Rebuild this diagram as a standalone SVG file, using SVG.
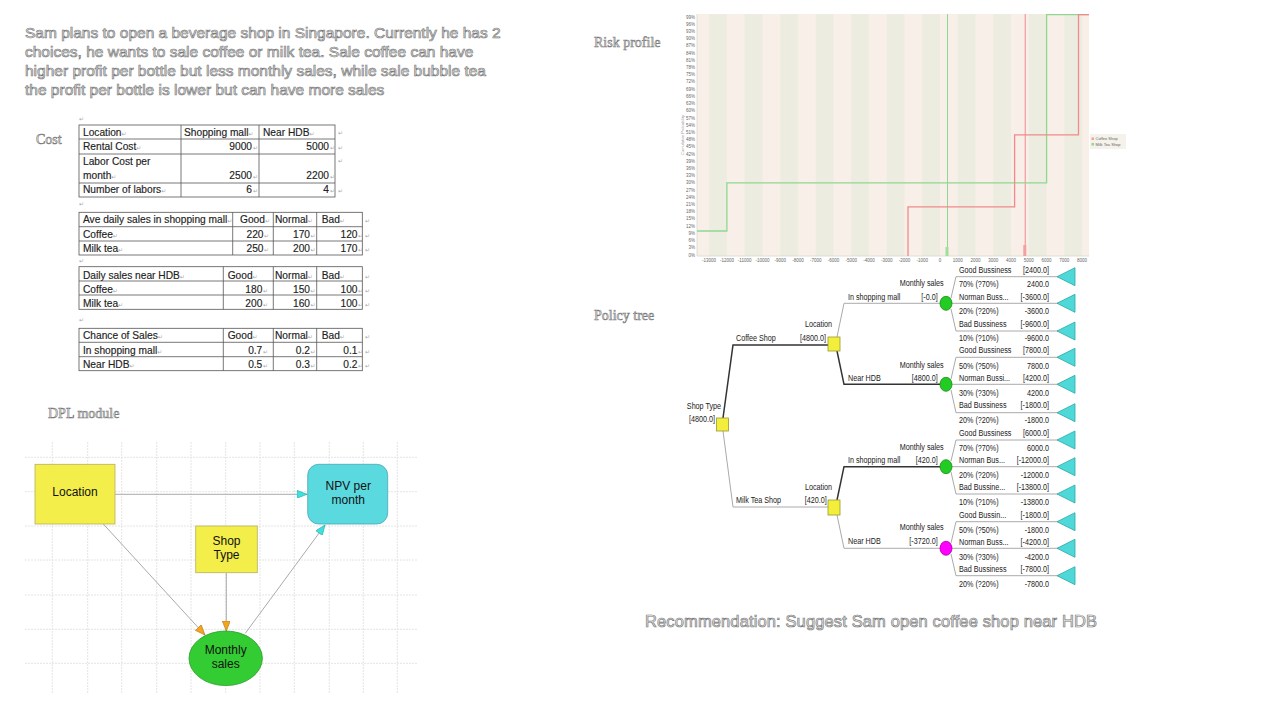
<svg xmlns="http://www.w3.org/2000/svg" width="1280" height="720" viewBox="0 0 1280 720">
<style>
.ghost{font-family:"Liberation Sans",Arial,sans-serif;font-size:15.5px;fill:#f2f2f2;stroke:#7a7a7a;stroke-width:0.7}
.ghs{font-family:"Liberation Serif","Times New Roman",serif;font-size:14px;fill:#f2f2f2;stroke:#7a7a7a;stroke-width:0.6}
.tb{fill:none;stroke:#555;stroke-width:0.8}
.tt{font-family:"Liberation Sans",Arial,sans-serif;font-size:10.2px;fill:#222;stroke:#222;stroke-width:0.15}
.tr{font-family:"Liberation Sans",Arial,sans-serif;font-size:10.2px;fill:#222;stroke:#222;stroke-width:0.15;text-anchor:end}
.rm{font-family:"DejaVu Sans",sans-serif;font-size:6px;fill:#aaa;stroke:none}
.grid{stroke:#e4e4e4;stroke-width:1;stroke-dasharray:2 1}
.dlink{stroke:#aaa;stroke-width:1;fill:none}
.nt{font-family:"Liberation Sans",Arial,sans-serif;font-size:12px;fill:#111;text-anchor:middle}
.tk{font-family:"Liberation Sans",Arial,sans-serif;font-size:4.5px;fill:#666}
.tn{font-family:"Liberation Sans",Arial,sans-serif;font-size:9.6px;fill:#222;transform-box:fill-box;transform-origin:0% 50%;transform:scaleX(0.75)}
.te{font-family:"Liberation Sans",Arial,sans-serif;font-size:9.6px;fill:#222;text-anchor:end;transform-box:fill-box;transform-origin:100% 50%;transform:scaleX(0.75)}
.opt{stroke:#333;stroke-width:1.5;fill:none}
.sub{stroke:#aaa;stroke-width:1;fill:none}
.dec{fill:#f3ee3c;stroke:#9a9a30;stroke-width:0.8}
.term{fill:#4fd8d8;stroke:#2aa8a8;stroke-width:0.8}
</style>
<defs>
<marker id="arC" viewBox="0 0 10 8" refX="10" refY="4" markerWidth="11" markerHeight="8" markerUnits="userSpaceOnUse" orient="auto"><path d="M0,0 L10,4 L0,8 Z" fill="#3fe0e0" stroke="#2aa8a8" stroke-width="0.6"/></marker>
<marker id="arO" viewBox="0 0 10 8" refX="10" refY="4" markerWidth="11" markerHeight="8" markerUnits="userSpaceOnUse" orient="auto"><path d="M0,0 L10,4 L0,8 Z" fill="#f3a51d" stroke="#b07010" stroke-width="0.6"/></marker>
<pattern id="stripes" patternUnits="userSpaceOnUse" x="709.1" y="0" width="35.52" height="10"><rect x="0" y="0" width="17.76" height="10" fill="#ecede0"/><rect x="17.76" y="0" width="17.76" height="10" fill="#f8efe8"/></pattern>
</defs>

<!-- intro text -->
<g id="intro">
<text class="ghost" x="25" y="38">Sam plans to open a beverage shop in Singapore. Currently he has 2</text>
<text class="ghost" x="25" y="57">choices, he wants to sale coffee or milk tea. Sale coffee can have</text>
<text class="ghost" x="25" y="76">higher profit per bottle but less monthly sales, while sale bubble tea</text>
<text class="ghost" x="25" y="95">the profit per bottle is lower but can have more sales</text>
</g>

<g id="labels">
<text class="ghs" x="36" y="144">Cost</text>
<text class="ghs" x="594" y="47">Risk profile</text>
<text class="ghs" x="594" y="320">Policy tree</text>
<text class="ghs" x="48" y="418">DPL module</text>
<text class="ghost" x="645" y="627" style="font-size:16.5px" textLength="452" lengthAdjust="spacing">Recommendation: Suggest Sam open coffee shop near HDB</text>
</g>

<!-- Table 1 -->
<g id="table-cost">
<text class="rm" x="79" y="121">↵</text>
<rect class="tb" x="79" y="125" width="256" height="72"/>
<path class="tb" d="M79,139 H335 M79,154 H335 M79,183 H335 M181,125 V197 M259,125 V197"/>
<text class="tt" x="83" y="135.5">Location<tspan class="rm">↵</tspan></text>
<text class="tt" x="184" y="135.5">Shopping mall<tspan class="rm">↵</tspan></text>
<text class="tt" x="263" y="135.5">Near HDB<tspan class="rm">↵</tspan></text>
<text class="tt" x="83" y="150">Rental Cost<tspan class="rm">↵</tspan></text>
<text class="tr" x="252" y="150">9000</text>
<text class="tr" x="329" y="150">5000</text>
<text class="tt" x="83" y="165">Labor Cost per</text>
<text class="tt" x="83" y="179">month<tspan class="rm">↵</tspan></text>
<text class="tr" x="252" y="179">2500</text>
<text class="tr" x="329" y="179">2200</text>
<text class="tt" x="83" y="193">Number of labors<tspan class="rm">↵</tspan></text>
<text class="tr" x="252" y="193">6</text>
<text class="tr" x="329" y="193">4</text>
<text class="rm" x="253" y="150">↵</text><text class="rm" x="330" y="150">↵</text>
<text class="rm" x="253" y="179">↵</text><text class="rm" x="330" y="179">↵</text>
<text class="rm" x="253" y="193">↵</text><text class="rm" x="330" y="193">↵</text>
<text class="rm" x="338" y="135">↵</text><text class="rm" x="338" y="150">↵</text><text class="rm" x="338" y="163">↵</text><text class="rm" x="338" y="193">↵</text>
<text class="rm" x="79" y="206">↵</text>
</g>

<!-- Table 2 -->
<g id="table-mall">
<rect class="tb" x="79" y="212.3" width="283.3" height="42.7"/>
<path class="tb" d="M79,226.7 H362.3 M79,241 H362.3 M232.7,212.3 V255 M273.3,212.3 V255 M316.7,212.3 V255"/>
<text class="tt" x="83" y="223">Ave daily sales in shopping mall<tspan class="rm">↵</tspan></text>
<text class="tt" x="240" y="223">Good<tspan class="rm">↵</tspan></text>
<text class="tt" x="275" y="223">Normal<tspan class="rm">↵</tspan></text>
<text class="tt" x="321.7" y="223">Bad<tspan class="rm">↵</tspan></text>
<text class="tt" x="83" y="237.5">Coffee<tspan class="rm">↵</tspan></text>
<text class="tr" x="263.5" y="237.5">220</text><text class="tr" x="310" y="237.5">170</text><text class="tr" x="357.5" y="237.5">120</text>
<text class="tt" x="83" y="252">Milk tea<tspan class="rm">↵</tspan></text>
<text class="tr" x="263.5" y="252">250</text><text class="tr" x="310" y="252">200</text><text class="tr" x="357.5" y="252">170</text>
<text class="rm" x="264" y="237.5">↵</text><text class="rm" x="310.5" y="237.5">↵</text><text class="rm" x="358" y="237.5">↵</text>
<text class="rm" x="264" y="252">↵</text><text class="rm" x="310.5" y="252">↵</text><text class="rm" x="358" y="252">↵</text>
<text class="rm" x="365" y="223">↵</text><text class="rm" x="365" y="237.5">↵</text><text class="rm" x="365" y="252">↵</text>
<text class="rm" x="79" y="263">↵</text>
</g>

<!-- Table 3 -->
<g id="table-hdb">
<rect class="tb" x="79" y="266.7" width="283.3" height="42.6"/>
<path class="tb" d="M79,281 H362.3 M79,295 H362.3 M223.3,266.7 V309.3 M273.3,266.7 V309.3 M316.7,266.7 V309.3"/>
<text class="tt" x="83" y="278.5">Daily sales near HDB<tspan class="rm">↵</tspan></text>
<text class="tt" x="227.7" y="278.5">Good<tspan class="rm">↵</tspan></text>
<text class="tt" x="275" y="278.5">Normal<tspan class="rm">↵</tspan></text>
<text class="tt" x="321.7" y="278.5">Bad<tspan class="rm">↵</tspan></text>
<text class="tt" x="83" y="292.5">Coffee<tspan class="rm">↵</tspan></text>
<text class="tr" x="262.3" y="292.5">180</text><text class="tr" x="310" y="292.5">150</text><text class="tr" x="357.5" y="292.5">100</text>
<text class="tt" x="83" y="306.5">Milk tea<tspan class="rm">↵</tspan></text>
<text class="tr" x="262.3" y="306.5">200</text><text class="tr" x="310" y="306.5">160</text><text class="tr" x="357.5" y="306.5">100</text>
<text class="rm" x="263" y="292.5">↵</text><text class="rm" x="310.5" y="292.5">↵</text><text class="rm" x="358" y="292.5">↵</text>
<text class="rm" x="263" y="306.5">↵</text><text class="rm" x="310.5" y="306.5">↵</text><text class="rm" x="358" y="306.5">↵</text>
<text class="rm" x="365" y="278.5">↵</text><text class="rm" x="365" y="292.5">↵</text><text class="rm" x="365" y="306.5">↵</text>
<text class="rm" x="79" y="322">↵</text>
</g>

<!-- Table 4 -->
<g id="table-chance">
<rect class="tb" x="79" y="328.3" width="283.3" height="42.4"/>
<path class="tb" d="M79,342.3 H362.3 M79,356.7 H362.3 M223.3,328.3 V370.7 M273.3,328.3 V370.7 M316.7,328.3 V370.7"/>
<text class="tt" x="83" y="339">Chance of Sales<tspan class="rm">↵</tspan></text>
<text class="tt" x="227.7" y="339">Good<tspan class="rm">↵</tspan></text>
<text class="tt" x="275" y="339">Normal<tspan class="rm">↵</tspan></text>
<text class="tt" x="321.7" y="339">Bad<tspan class="rm">↵</tspan></text>
<text class="tt" x="83" y="353.5">In shopping mall<tspan class="rm">↵</tspan></text>
<text class="tr" x="262.3" y="353.5">0.7</text><text class="tr" x="310" y="353.5">0.2</text><text class="tr" x="357.5" y="353.5">0.1</text>
<text class="tt" x="83" y="368">Near HDB<tspan class="rm">↵</tspan></text>
<text class="tr" x="262.3" y="368">0.5</text><text class="tr" x="310" y="368">0.3</text><text class="tr" x="357.5" y="368">0.2</text>
<text class="rm" x="263" y="353.5">↵</text><text class="rm" x="310.5" y="353.5">↵</text><text class="rm" x="358" y="353.5">↵</text>
<text class="rm" x="263" y="368">↵</text><text class="rm" x="310.5" y="368">↵</text><text class="rm" x="358" y="368">↵</text>
<text class="rm" x="365" y="339">↵</text><text class="rm" x="365" y="353.5">↵</text><text class="rm" x="365" y="368">↵</text>
</g>

<!-- DPL influence diagram -->
<g id="dpl-grid">
<path class="grid" d="M52.3,442 V693 M87.7,442 V693 M121.7,442 V693 M156.7,442 V693 M191,442 V693 M225.7,442 V693 M260,442 V693 M294.3,442 V693 M329.3,442 V693 M363.3,442 V693 M397.3,442 V693 M25,457.3 H418 M25,491.7 H418 M25,526 H418 M25,560 H418 M25,595 H418 M25,629.3 H418 M25,663.3 H418"/>
</g>
<g id="dpl-connectors">
<path class="dlink" d="M115,494.3 H307" marker-end="url(#arC)"/>
<path class="dlink" d="M103.3,524 L205,635" marker-end="url(#arO)"/>
<path class="dlink" d="M226.3,572.7 V631" marker-end="url(#arO)"/>
<path class="dlink" d="M245.3,633.3 L325,525" marker-end="url(#arC)"/>
</g>
<g id="node-location">
<rect x="35" y="464.3" width="80" height="59.7" fill="#f3ee4a" stroke="#b8b060" stroke-width="0.8"/>
<text class="nt" x="75" y="496">Location</text>
</g>
<g id="node-npv">
<rect x="307.7" y="464.3" width="80" height="59.7" rx="11" fill="#5ad9df" stroke="#4aa8b0" stroke-width="0.8"/>
<text class="nt" x="348.3" y="490">NPV per</text>
<text class="nt" x="348.3" y="504">month</text>
</g>
<g id="node-shoptype">
<rect x="195.7" y="526" width="61.6" height="46.7" fill="#f3ee4a" stroke="#b8b060" stroke-width="0.8"/>
<text class="nt" x="226.5" y="545">Shop</text>
<text class="nt" x="226.5" y="559">Type</text>
</g>
<g id="node-monthly">
<ellipse cx="225.7" cy="658.3" rx="36.7" ry="27.3" fill="#33cc33" stroke="#2a9a2a" stroke-width="0.8"/>
<text class="nt" x="225.7" y="654">Monthly</text>
<text class="nt" x="225.7" y="668">sales</text>
</g>

<!-- Risk profile chart -->
<g id="risk-profile">
<rect x="697" y="14" width="392" height="242" fill="#f8efe8"/>
<rect x="709.1" y="14" width="379.9" height="242" fill="url(#stripes)"/>
<path d="M697,14 V256 H1089" fill="none" stroke="#d8d8c8" stroke-width="0.8"/>
<g class="tk" text-anchor="end">
<text x="695" y="18.5">99%</text><text x="695" y="25.7">96%</text><text x="695" y="32.9">93%</text><text x="695" y="40.1">90%</text><text x="695" y="47.4">87%</text><text x="695" y="54.6">84%</text><text x="695" y="61.8">81%</text><text x="695" y="69">78%</text><text x="695" y="76.2">75%</text><text x="695" y="83.4">72%</text><text x="695" y="90.6">69%</text><text x="695" y="97.8">66%</text><text x="695" y="105">63%</text><text x="695" y="112.3">60%</text><text x="695" y="119.5">57%</text><text x="695" y="126.7">54%</text><text x="695" y="133.9">51%</text><text x="695" y="141.1">48%</text><text x="695" y="148.3">45%</text><text x="695" y="155.5">42%</text><text x="695" y="162.7">39%</text><text x="695" y="170">36%</text><text x="695" y="177.2">33%</text><text x="695" y="184.4">30%</text><text x="695" y="191.6">27%</text><text x="695" y="198.8">24%</text><text x="695" y="206">21%</text><text x="695" y="213.2">18%</text><text x="695" y="220.4">15%</text><text x="695" y="227.7">12%</text><text x="695" y="234.9">9%</text><text x="695" y="242.1">6%</text><text x="695" y="249.3">3%</text><text x="695" y="256.5">0%</text>
</g>
<g class="tk" text-anchor="middle">
<text x="709.1" y="262">-13000</text><text x="726.9" y="262">-12000</text><text x="744.6" y="262">-11000</text><text x="762.4" y="262">-10000</text><text x="780.2" y="262">-9000</text><text x="797.9" y="262">-8000</text><text x="815.7" y="262">-7000</text><text x="833.4" y="262">-6000</text><text x="851.2" y="262">-5000</text><text x="869" y="262">-4000</text><text x="886.7" y="262">-3000</text><text x="904.5" y="262">-2000</text><text x="922.2" y="262">-1000</text><text x="940" y="262">0</text><text x="957.8" y="262">1000</text><text x="975.5" y="262">2000</text><text x="993.3" y="262">3000</text><text x="1011" y="262">4000</text><text x="1028.8" y="262">5000</text><text x="1046.6" y="262">6000</text><text x="1064.3" y="262">7000</text><text x="1082.1" y="262">8000</text>
</g>
<text class="tk" transform="translate(684,135) rotate(-90)" text-anchor="middle" style="font-size:4px;fill:#999">Cumulative Probability</text>
<path d="M947.5,14 V256" stroke="#8fd88f" stroke-width="1" fill="none"/>
<path d="M1025.2,14 V256" stroke="#f08a8a" stroke-width="1" fill="none"/>
<rect x="945.5" y="247" width="3" height="9" fill="#9fe09f"/>
<rect x="1023.3" y="245" width="3" height="11" fill="#f4a0a0"/>
<path d="M697,231 H726.9 V182.9 H1046.6 V14.6 H1089" stroke="#90d890" stroke-width="1.3" fill="none"/>
<path d="M908,256 V206.9 H1014.6 V134.8 H1078.5 V14.6 H1089" stroke="#f08a8a" stroke-width="1.3" fill="none"/>
<rect x="1090" y="134" width="36" height="15" fill="#f4f2ea"/>
<rect x="1091.5" y="137.5" width="2.5" height="2.5" fill="#f4a0a0"/>
<rect x="1091.5" y="143" width="2.5" height="2.5" fill="#90d890"/>
<text class="tk" x="1095.5" y="140" style="font-size:4px">Coffee Shop</text>
<text class="tk" x="1095.5" y="145.5" style="font-size:4px">Milk Tea Shop</text>
</g>

<!-- Policy tree connectors -->
<g id="tree-connectors">
<path class="opt" d="M723,418 L733,345 H828"/>
<path class="sub" d="M723,431 L733,507 H828"/>
<path class="sub" d="M837,337 L844,303.3 H940"/>
<path class="opt" d="M837,351 L844,384.3 H940"/>
<path class="opt" d="M837,500 L844,466.7 H940"/>
<path class="sub" d="M837,515 L844,548.3 H940"/>
<path class="sub" d="M951,298 L956,276.7 H1058 M952,303.3 H1058 M951,309 L956,331 H1058"/>
<path class="sub" d="M951,379 L956,357.3 H1058 M952,384.3 H1058 M951,390 L956,412.7 H1058"/>
<path class="sub" d="M951,461 L956,440 H1058 M952,466.7 H1058 M951,472 L956,494 H1058"/>
<path class="sub" d="M951,543 L956,521.7 H1058 M952,548.3 H1058 M951,554 L956,575.7 H1058"/>
</g>

<g id="tree-shoptype">
<rect class="dec" x="716.5" y="418" width="12" height="13"/>
<text class="te" x="721" y="409">Shop Type</text>
<text class="te" x="715" y="422">[4800.0]</text>
<text class="tn" x="736" y="341">Coffee Shop</text>
<text class="tn" x="736" y="503">Milk Tea Shop</text>
</g>
<g id="tree-location-coffee">
<rect class="dec" x="828" y="337" width="12" height="14"/>
<text class="te" x="832" y="327.5">Location</text>
<text class="te" x="826" y="341">[4800.0]</text>
<text class="tn" x="848" y="300">In shopping mall</text>
<text class="tn" x="848" y="381">Near HDB</text>
</g>
<g id="tree-location-milktea">
<rect class="dec" x="828" y="500" width="12" height="15"/>
<text class="te" x="832" y="490">Location</text>
<text class="te" x="826.7" y="503.5">[420.0]</text>
<text class="tn" x="848" y="463.5">In shopping mall</text>
<text class="tn" x="848" y="543.5">Near HDB</text>
</g>

<g id="tree-chance-coffee-mall">
<ellipse cx="946" cy="303.3" rx="6" ry="7" fill="#22cc22" stroke="#1a8a1a" stroke-width="0.8"/>
<text class="te" x="943.7" y="286.5">Monthly sales</text>
<text class="te" x="937.7" y="300">[-0.0]</text>
<text class="tn" x="959" y="273.2">Good Bussiness</text><text class="te" x="1049" y="273.2">[2400.0]</text>
<text class="tn" x="959" y="287.5">70% (?70%)</text><text class="te" x="1049" y="287.5">2400.0</text>
<text class="tn" x="959" y="300">Norman Buss...</text><text class="te" x="1049" y="300">[-3600.0]</text>
<text class="tn" x="959" y="314.5">20% (?20%)</text><text class="te" x="1049" y="314.5">-3600.0</text>
<text class="tn" x="959" y="327">Bad Bussiness</text><text class="te" x="1049" y="327">[-9600.0]</text>
<text class="tn" x="959" y="341.5">10% (?10%)</text><text class="te" x="1049" y="341.5">-9600.0</text>
</g>
<g id="tree-chance-coffee-hdb">
<ellipse cx="946" cy="384.3" rx="6" ry="7" fill="#22cc22" stroke="#1a8a1a" stroke-width="0.8"/>
<text class="te" x="943.7" y="368.5">Monthly sales</text>
<text class="te" x="937.7" y="381">[4800.0]</text>
<text class="tn" x="959" y="353.5">Good Bussiness</text><text class="te" x="1049" y="353.5">[7800.0]</text>
<text class="tn" x="959" y="369">50% (?50%)</text><text class="te" x="1049" y="369">7800.0</text>
<text class="tn" x="959" y="381">Norman Bussi...</text><text class="te" x="1049" y="381">[4200.0]</text>
<text class="tn" x="959" y="396.5">30% (?30%)</text><text class="te" x="1049" y="396.5">4200.0</text>
<text class="tn" x="959" y="408.5">Bad Bussiness</text><text class="te" x="1049" y="408.5">[-1800.0]</text>
<text class="tn" x="959" y="423.5">20% (?20%)</text><text class="te" x="1049" y="423.5">-1800.0</text>
</g>
<g id="tree-chance-milktea-mall">
<ellipse cx="946" cy="466.7" rx="6" ry="7" fill="#22cc22" stroke="#1a8a1a" stroke-width="0.8"/>
<text class="te" x="943.7" y="450">Monthly sales</text>
<text class="te" x="937.7" y="463.5">[420.0]</text>
<text class="tn" x="959" y="436.5">Good Bussiness</text><text class="te" x="1049" y="436.5">[6000.0]</text>
<text class="tn" x="959" y="451">70% (?70%)</text><text class="te" x="1049" y="451">6000.0</text>
<text class="tn" x="959" y="463.5">Norman Bus...</text><text class="te" x="1049" y="463.5">[-12000.0]</text>
<text class="tn" x="959" y="478">20% (?20%)</text><text class="te" x="1049" y="478">-12000.0</text>
<text class="tn" x="959" y="490.5">Bad Bussine...</text><text class="te" x="1049" y="490.5">[-13800.0]</text>
<text class="tn" x="959" y="505">10% (?10%)</text><text class="te" x="1049" y="505">-13800.0</text>
</g>
<g id="tree-chance-milktea-hdb">
<ellipse cx="946" cy="548.3" rx="6" ry="7" fill="#ff00ff" stroke="#aa00aa" stroke-width="0.8"/>
<text class="te" x="943.7" y="530">Monthly sales</text>
<text class="te" x="937.7" y="543.5">[-3720.0]</text>
<text class="tn" x="959" y="518">Good Bussin...</text><text class="te" x="1049" y="518">[-1800.0]</text>
<text class="tn" x="959" y="533">50% (?50%)</text><text class="te" x="1049" y="533">-1800.0</text>
<text class="tn" x="959" y="545">Norman Buss...</text><text class="te" x="1049" y="545">[-4200.0]</text>
<text class="tn" x="959" y="560">30% (?30%)</text><text class="te" x="1049" y="560">-4200.0</text>
<text class="tn" x="959" y="572">Bad Bussiness</text><text class="te" x="1049" y="572">[-7800.0]</text>
<text class="tn" x="959" y="587">20% (?20%)</text><text class="te" x="1049" y="587">-7800.0</text>
</g>
<g id="tree-terminals">
<path class="term" d="M1057,276.7 L1075,267.7 V285.7 Z M1057,303.3 L1075,294.3 V312.3 Z M1057,331 L1075,322 V340 Z M1057,357.3 L1075,348.3 V366.3 Z M1057,384.3 L1075,375.3 V393.3 Z M1057,412.7 L1075,403.7 V421.7 Z M1057,440 L1075,431 V449 Z M1057,466.7 L1075,457.7 V475.7 Z M1057,494 L1075,485 V503 Z M1057,521.7 L1075,512.7 V530.7 Z M1057,548.3 L1075,539.3 V557.3 Z M1057,575.7 L1075,566.7 V584.7 Z"/>
</g>
</svg>
